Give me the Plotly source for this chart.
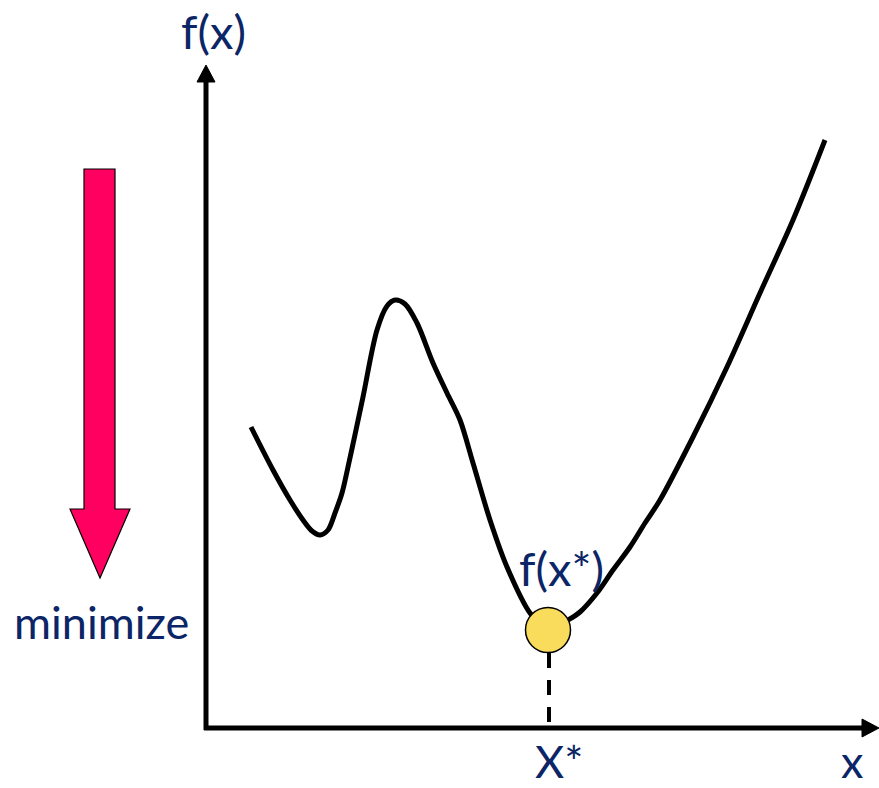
import plotly.graph_objects as go

# Objective curve f(x), sampled along the sketch (x, f(x))
curve_x = [251, 273, 290, 303, 312, 320, 328, 335, 342, 348, 356, 363, 377, 387,
           395, 405, 417, 433, 447, 460, 473, 490, 507, 530, 548, 568, 580, 597,
           613, 630, 645, 660, 693, 727, 760, 793, 825]
curve_f = [361, 318, 288, 268, 257, 253, 258, 275, 295, 321, 358, 391, 458, 482,
           488, 484, 465, 425, 395, 368, 325, 268, 221, 175, 158, 168, 176, 195,
           218, 241, 265, 288, 351, 421, 495, 568, 648]

# Global minimum
x_star = 548
f_star = 158

# Axis origin and extents
origin_x = 206
origin_y = 60
x_end = 879
y_end = 723

TEXT_COLOR = "#0B2566"
FONT = "Lato"

fig = go.Figure()

fig.add_trace(go.Scatter(
    x=curve_x, y=curve_f, mode="lines",
    line=dict(color="black", width=5, shape="spline", smoothing=0.9),
    hoverinfo="skip", showlegend=False,
))

fig.add_trace(go.Scatter(
    x=[x_star], y=[f_star], mode="markers",
    marker=dict(size=45, color="#F9DC5C", line=dict(color="black", width=1.5)),
    hoverinfo="skip", showlegend=False,
))

shapes = []
# dashed drop line from the minimum to the x axis
shapes.append(dict(type="line", xref="x", yref="y", x0=x_star + 1, x1=x_star + 1,
                   y0=f_star - 23, y1=origin_y,
                   line=dict(color="black", width=4, dash="15px,12px"), layer="below"))
# axes
shapes.append(dict(type="line", xref="x", yref="y", x0=origin_x, x1=origin_x,
                   y0=origin_y - 2, y1=y_end - 14, line=dict(color="black", width=5)))
shapes.append(dict(type="line", xref="x", yref="y", x0=origin_x - 2, x1=x_end - 14,
                   y0=origin_y, y1=origin_y, line=dict(color="black", width=5)))
# arrowheads
shapes.append(dict(type="path", xref="x", yref="y",
                   path=f"M {origin_x} {y_end} L {origin_x - 9} {y_end - 17} "
                        f"L {origin_x + 9} {y_end - 17} Z",
                   fillcolor="black", line=dict(color="black", width=1)))
shapes.append(dict(type="path", xref="x", yref="y",
                   path=f"M {x_end} {origin_y} L {x_end - 17} {origin_y + 9} "
                        f"L {x_end - 17} {origin_y - 9} Z",
                   fillcolor="black", line=dict(color="black", width=1)))
# "minimize" block arrow
ax_l, ax_r, ax_top, ax_neck = 84, 115, 619, 279
hd_l, hd_r, hd_tip, ax_cx = 70, 130, 210, 100
shapes.append(dict(type="path", xref="x", yref="y",
                   path=f"M {ax_l} {ax_top} L {ax_r} {ax_top} L {ax_r} {ax_neck} "
                        f"L {hd_r} {ax_neck} L {ax_cx} {hd_tip} L {hd_l} {ax_neck} "
                        f"L {ax_l} {ax_neck} Z",
                   fillcolor="#FF0060", line=dict(color="black", width=1.2)))

annotations = [
    dict(x=213, y=757, text="f(x)", size=47),
    dict(x=101, y=166, text="minimize", size=45),
    dict(x=561, y=220, text="f(x*)", size=47),
    dict(x=559, y=27, text="X*", size=45),
    dict(x=852, y=27, text="x", size=45),
]
for a in annotations:
    size = a.pop("size")
    a.update(xref="x", yref="y", showarrow=False, xanchor="center", yanchor="middle",
             font=dict(family=FONT, size=size, color=TEXT_COLOR))

fig.update_layout(
    width=879, height=788,
    margin=dict(l=0, r=0, t=0, b=0),
    paper_bgcolor="white", plot_bgcolor="white",
    xaxis=dict(range=[0, 879], visible=False, fixedrange=True),
    yaxis=dict(range=[0, 788], visible=False, fixedrange=True),
    shapes=shapes, annotations=annotations,
)

fig.write_html("out.html")
